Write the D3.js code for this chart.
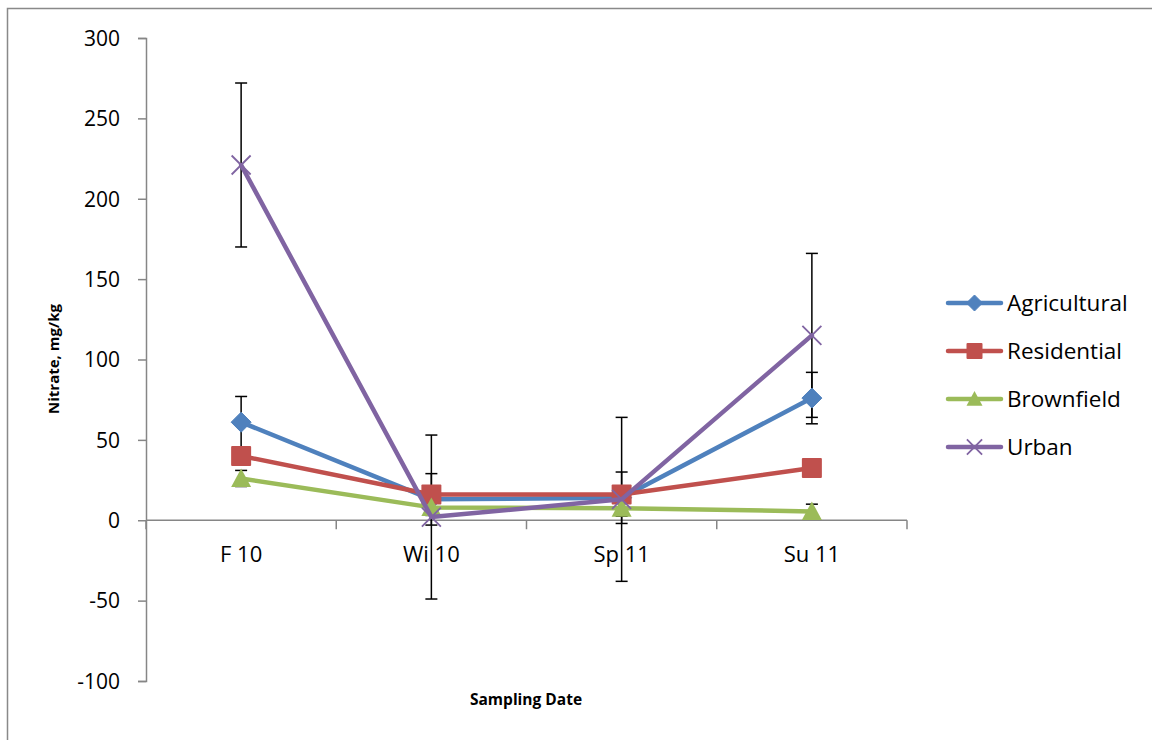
<!DOCTYPE html>
<html><head><meta charset="utf-8">
<script src="https://cdn.jsdelivr.net/npm/d3@7"></script>
<style>body{margin:0;background:#fff}svg{display:block}text{font-family:"Open Sans",sans-serif}</style>
</head><body>
<svg id="c" width="1152" height="740"></svg>
<script>
const categories = ["F 10", "Wi 10", "Sp 11", "Su 11"];
const seriesNames = ["Agricultural", "Residential", "Brownfield", "Urban"];
const agricultural = [61, 13, 14, 76];
const agriculturalErr = [16, 16, 16, 16];
const residential = [40, 16, 16, 32.5];
const residentialErr = [5, 4, 4, 4];
const brownfield = [26, 8, 7.5, 5.5];
const brownfieldErr = [5, 5, 5, 4.5];
const urban = [221, 2, 13, 115];
const urbanErr = [51, 51, 51, 51];
const yTicks = [-100, -50, 0, 50, 100, 150, 200, 250, 300];
const colors = ["#4F81BD", "#C0504D", "#9BBB59", "#8064A2"];
const markers = ["diamond", "square", "triangle", "x"];

const series = [
  {name: seriesNames[0], values: agricultural, err: agriculturalErr, color: colors[0], marker: markers[0]},
  {name: seriesNames[1], values: residential, err: residentialErr, color: colors[1], marker: markers[1]},
  {name: seriesNames[2], values: brownfield, err: brownfieldErr, color: colors[2], marker: markers[2]},
  {name: seriesNames[3], values: urban, err: urbanErr, color: colors[3], marker: markers[3]}
];

const FONT = "'Open Sans',sans-serif";
const svg = d3.select("#c");
svg.append("rect").attr("x", 7.5).attr("y", 8.5).attr("width", 1200).attr("height", 800)
  .attr("fill", "none").attr("stroke", "#898989").attr("stroke-width", 1.5);

const x = d3.scaleBand().domain(categories).range([146, 907]).paddingInner(0).paddingOuter(0);
const y = d3.scaleLinear().domain([-100, 300]).range([681, 38]);
const axisColor = "#868686";

const yAxis = svg.append("g").attr("transform", "translate(146,0)")
  .call(d3.axisLeft(y).tickValues(yTicks).tickSize(8).tickPadding(18).tickFormat(d => String(d)));
yAxis.select(".domain").attr("stroke", axisColor).attr("stroke-width", 1.5);
yAxis.selectAll(".tick line").attr("stroke", axisColor).attr("stroke-width", 1.5);
yAxis.selectAll("text").attr("font-size", 21).attr("fill", "#000").style("font-family", FONT).attr("dy", "0.35em");

const xAxis = svg.append("g").attr("transform", `translate(0,${y(0)})`)
  .call(d3.axisBottom(x).tickSize(0).tickPadding(26));
xAxis.select(".domain").attr("stroke", axisColor).attr("stroke-width", 1.5).attr("d", `M${x.range()[0]},0H${x.range()[1]}`);
xAxis.selectAll("text").attr("font-size", 22).attr("fill", "#000").style("font-family", FONT);
const bounds = categories.map(c => x(c)).concat([x.range()[1]]);
svg.append("g").selectAll("line").data(bounds).join("line")
  .attr("x1", d => d).attr("x2", d => d).attr("y1", y(0)).attr("y2", y(0) + 9)
  .attr("stroke", axisColor).attr("stroke-width", 1.5);

const cx = c => x(c) + x.bandwidth() / 2;

const eb = svg.append("g");
series.forEach(s => {
  s.values.forEach((v, i) => {
    const xc = cx(categories[i]);
    const hi = y(v + s.err[i]), lo = y(v - s.err[i]);
    eb.append("line").attr("x1", xc).attr("x2", xc).attr("y1", hi).attr("y2", lo).attr("stroke", "#000").attr("stroke-width", 1.5);
    [hi, lo].forEach(yy => eb.append("line").attr("x1", xc - 6).attr("x2", xc + 6).attr("y1", yy).attr("y2", yy).attr("stroke", "#000").attr("stroke-width", 1.5));
  });
});

function drawMarker(g, type, px, py, color, scale) {
  scale = scale || 1;
  if (type === "diamond") {
    const r = 10 * scale;
    g.append("path").attr("d", `M${px},${py - r}L${px + r},${py}L${px},${py + r}L${px - r},${py}Z`).attr("fill", color).attr("stroke", color).attr("stroke-width", 1);
  } else if (type === "square") {
    const r = 10 * scale;
    g.append("rect").attr("x", px - r).attr("y", py - r).attr("width", 2 * r).attr("height", 2 * r).attr("rx", 1).attr("fill", color);
  } else if (type === "triangle") {
    const r = 10 * scale;
    g.append("path").attr("d", `M${px},${py - r}L${px + r},${py + r * 0.85}L${px - r},${py + r * 0.85}Z`).attr("fill", color);
  } else if (type === "x") {
    const r = 9.5 * scale;
    g.append("path").attr("d", `M${px - r},${py - r}L${px + r},${py + r}M${px - r},${py + r}L${px + r},${py - r}`).attr("stroke", color).attr("stroke-width", 1.8).attr("fill", "none");
  }
}

const line = d3.line().x((d, i) => cx(categories[i])).y(d => y(d));
series.forEach(s => {
  const g = svg.append("g");
  g.append("path").datum(s.values).attr("d", line).attr("fill", "none").attr("stroke", s.color).attr("stroke-width", 4.5).attr("stroke-linejoin", "round").attr("stroke-linecap", "round");
  s.values.forEach((v, i) => drawMarker(g, s.marker, cx(categories[i]), y(v), s.color));
});

const leg = svg.append("g");
series.forEach((s, i) => {
  const ly = 303 + i * 48;
  leg.append("line").attr("x1", 948).attr("x2", 1001).attr("y1", ly).attr("y2", ly).attr("stroke", s.color).attr("stroke-width", 4.5).attr("stroke-linecap", "round");
  drawMarker(leg, s.marker, 974.5, ly, s.color, 0.8);
  leg.append("text").attr("x", 1007).attr("y", ly).attr("dy", "0.35em").attr("font-size", 22.5).attr("fill", "#000").text(s.name);
});

svg.append("text").attr("transform", "translate(59,359) rotate(-90)").attr("text-anchor", "middle")
  .attr("font-size", 15).attr("font-weight", "bold").attr("fill", "#000").text("Nitrate, mg/kg");
svg.append("text").attr("x", 526).attr("y", 705).attr("text-anchor", "middle")
  .attr("font-size", 15.5).attr("font-weight", "bold").attr("fill", "#000").text("Sampling Date");
</script>
</body></html>
